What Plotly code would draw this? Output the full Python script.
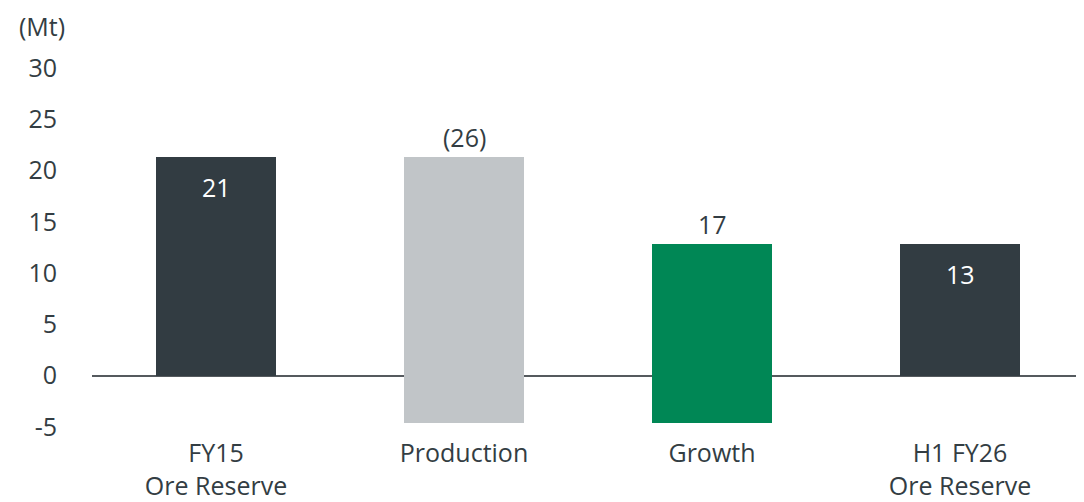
import plotly.graph_objects as go

categories = ["FY15<br>Ore Reserve", "Production", "Growth", "H1 FY26<br>Ore Reserve"]
measures = ["absolute", "relative", "relative", "total"]
values = [21.35, -25.93, 17.38, 12.8]
labels = ["21", "(26)", "17", "13"]
tick_vals = [-5, 0, 5, 10, 15, 20, 25, 30]
tick_text = ["-5", "0", "5", "10", "15", "20", "25", "30"]
colors = {"absolute": "#323c42", "total": "#323c42", "dec": "#c1c5c8", "inc": "#008755"}

FONT = "'Open Sans', 'Noto Sans', sans-serif"
TXT = "#333d43"
FS = 25

# compute bases / heights from data
bases, heights, cols = [], [], []
running = 0.0
for m, v in zip(measures, values):
    if m == "absolute":
        bases.append(0); heights.append(v); cols.append(colors["absolute"]); running = v
    elif m == "total":
        bases.append(0); heights.append(running); cols.append(colors["total"])
    else:
        bases.append(running); heights.append(v)
        cols.append(colors["inc"] if v > 0 else colors["dec"])
        running += v

fig = go.Figure()
fig.add_trace(go.Bar(
    x=categories, y=heights, base=bases,
    marker=dict(color=cols, line=dict(width=0)),
    width=0.484, hoverinfo="skip",
))

annotations = []
for i, (m, b, h, lab) in enumerate(zip(measures, bases, heights, labels)):
    top = max(b, b + h)
    if m in ("absolute", "total"):
        annotations.append(dict(x=categories[i], y=top, text=lab, showarrow=False,
                                yanchor="middle", yshift=-30,
                                font=dict(color="white", size=FS, family=FONT)))
    else:
        annotations.append(dict(x=categories[i], y=top, text=lab, showarrow=False,
                                yanchor="middle", yshift=20,
                                font=dict(color=TXT, size=FS, family=FONT)))

annotations.append(dict(xref="paper", yref="paper", x=-74/992, y=1, text="(Mt)",
                        xanchor="left", yanchor="top", yshift=50, showarrow=False,
                        borderpad=0,
                        font=dict(color=TXT, size=FS, family=FONT)))

fig.update_layout(
    width=1076, height=494,
    margin=dict(l=84, r=0, t=50, b=70),
    plot_bgcolor="white", paper_bgcolor="white",
    showlegend=False,
    font=dict(family=FONT, size=FS, color=TXT),
    annotations=annotations,
    bargap=0,
)
fig.update_xaxes(showgrid=False, showline=False, ticks="", range=[-0.5, 3.5],
                 ticklabelstandoff=4, tickfont=dict(size=FS, color=TXT))
fig.update_yaxes(range=[-5.5, 31], tickvals=tick_vals, ticktext=tick_text,
                 showgrid=False, zeroline=True, zerolinecolor="#555a5e", zerolinewidth=2,
                 showline=False, ticks="", ticklabelstandoff=34,
                 tickfont=dict(size=FS, color=TXT))

fig.write_html("out.html")
